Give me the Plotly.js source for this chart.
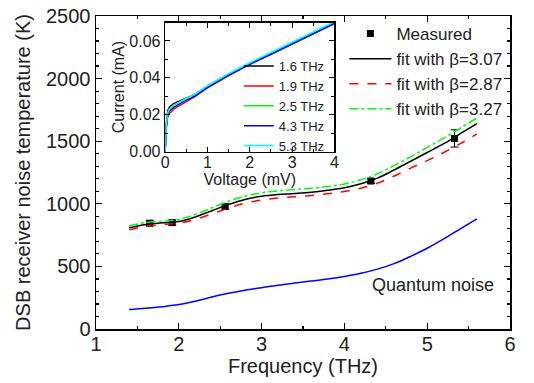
<!DOCTYPE html>
<html><head><meta charset="utf-8">
<script src="https://cdn.plot.ly/plotly-3.0.1.min.js"></script>
<style>html,body{margin:0;padding:0;background:#fff}#plot{width:534px;height:383px}</style>
</head><body><div id="plot"></div>
<script>
// Main chart data
const measFreq = [1.65, 1.92, 2.56, 4.32, 5.33];
const measTemp = [845, 850, 978, 1182, 1522];
const measErr  = [22, 20, 22, 18, 69];

const fitFreq = [1.4,1.6,1.8,2.0,2.2,2.4,2.6,2.8,3.0,3.2,3.4,3.6,3.8,4.0,4.2,4.4,4.6,4.8,5.0,5.2,5.4,5.6];
const fit307 = [808,835,848,858,895,945,995,1035,1060,1074,1082,1092,1108,1128,1160,1205,1270,1340,1410,1480,1560,1640];
const fit287 = [792,820,835,845,875,920,965,1005,1030,1046,1056,1066,1080,1098,1125,1165,1222,1285,1345,1410,1480,1558];
const fit327 = [824,850,862,875,915,968,1020,1062,1088,1104,1114,1124,1138,1158,1192,1240,1305,1375,1450,1525,1605,1685];
const quantum = [155,165,178,195,222,255,285,310,330,350,367,383,400,420,445,478,522,580,645,720,800,880];

// Inset I-V data
const vIV = [0,0.01,0.03,0.06,0.1,0.2,0.35,0.5,0.7,1.0,1.5,2.0,2.5,3.0,3.5,4.0];
const i16 = [0,0.008,0.016,0.022,0.024,0.026,0.0275,0.029,0.031,0.0355,0.042,0.0478,0.053,0.0587,0.064,0.0698];
const i19 = [0,0.006,0.013,0.019,0.0205,0.023,0.025,0.0272,0.0298,0.0345,0.0412,0.0473,0.0528,0.0584,0.064,0.0698];
const i25 = [0,0.007,0.015,0.021,0.023,0.025,0.027,0.0288,0.031,0.0354,0.042,0.048,0.0534,0.059,0.0645,0.0702];
const i43 = [0,0.007,0.014,0.020,0.022,0.024,0.026,0.028,0.030,0.0348,0.0413,0.0474,0.0528,0.0584,0.0639,0.0695];
const i53 = [0,0.008,0.015,0.021,0.023,0.025,0.027,0.029,0.0312,0.0357,0.0423,0.0482,0.0538,0.0593,0.0648,0.0705];
const ivLabels = ['1.6 THz','1.9 THz','2.5 THz','4.3 THz','5.3 THz'];
const ivColors = ['#000000','#ff0000','#00ff00','#0000ff','#00ffff'];
const ivSeries = [i16, i19, i25, i43, i53];

const FONT = 'Liberation Sans, Arial, sans-serif';

const traces = [
  {x: fitFreq, y: quantum, mode:'lines', line:{color:'#0000ff', width:1.5, shape:'spline'}, showlegend:false},
  {x: measFreq, y: measTemp, mode:'markers', name:'Measured',
   marker:{symbol:'square', size:7, color:'#000'},
   error_y:{type:'data', array: measErr, visible:true, color:'#000', thickness:1, width:4}},
  {x: fitFreq, y: fit307, mode:'lines', name:'fit with β=3.07', line:{color:'#000', width:1.5, shape:'spline'}},
  {x: fitFreq, y: fit287, mode:'lines', name:'fit with β=2.87', line:{color:'#ff0000', width:1.5, dash:'dash', shape:'spline'}},
  {x: fitFreq, y: fit327, mode:'lines', name:'fit with β=3.27', line:{color:'#00ff00', width:1.5, dash:'dashdot', shape:'spline'}}
];
ivSeries.forEach((s, k) => {
  traces.push({x: vIV, y: s, xaxis:'x2', yaxis:'y2', mode:'lines', name: ivLabels[k],
    legend:'legend2', line:{color: ivColors[k], width: 1.5}});
});

const layout = {
  width:534, height:383,
  margin:{l:96, r:24, t:16, b:54},
  paper_bgcolor:'#fff', plot_bgcolor:'rgba(0,0,0,0)',
  font:{family:FONT, color:'#222', size:20},
  xaxis:{range:[1,6], dtick:1, tick0:1, ticks:'inside', ticklen:6, tickwidth:1.2, tickcolor:'#000',
    minor:{dtick:0.5, ticks:'inside', ticklen:3, tickcolor:'#000'},
    showline:true, linecolor:'#000', linewidth:1.5, mirror:'ticks', showgrid:false, zeroline:false,
    ticklabelstandoff:-4,
    tickfont:{size:20}, title:{text:'Frequency (THz)', font:{size:20}, standoff:2}},
  yaxis:{range:[0,2500], dtick:500, ticks:'inside', ticklen:6, tickwidth:1.2, tickcolor:'#000',
    minor:{dtick:100, ticks:'inside', ticklen:3, tickcolor:'#000'},
    showline:true, linecolor:'#000', linewidth:1.5, mirror:'ticks', showgrid:false, zeroline:false,
    tickfont:{size:20}, title:{text:'DSB receiver noise temperature (K)', font:{size:20}, standoff:10}},
  xaxis2:{domain:[0.167,0.576], anchor:'y2', range:[0,4], dtick:1, ticks:'inside', ticklen:5, tickcolor:'#000',
    minor:{dtick:0.5, ticks:'inside', ticklen:3, tickcolor:'#000'},
    showline:true, linecolor:'#000', linewidth:1.5, mirror:'ticks', showgrid:false, zeroline:false,
    ticklabelstandoff:-4,
    tickfont:{size:16}, title:{text:'Voltage (mV)', font:{size:16}, standoff:0}},
  yaxis2:{domain:[0.567,0.979], anchor:'x2', range:[0,0.07], dtick:0.02, tickformat:'.2f', ticks:'inside', ticklen:5, tickcolor:'#000',
    minor:{dtick:0.01, ticks:'inside', ticklen:3, tickcolor:'#000'},
    showline:true, linecolor:'#000', linewidth:1.5, mirror:'ticks', showgrid:false, zeroline:false,
    tickfont:{size:16}, title:{text:'Current (mA)', font:{size:16}, standoff:0}},
  legend:{x:0.6, y:1.0, xanchor:'left', yanchor:'top', bgcolor:'rgba(0,0,0,0)', borderwidth:0,
    font:{size:17}, itemwidth:42, traceorder:'normal'},
  legend2:{x:0.345, y:0.888, xanchor:'left', yanchor:'top', bgcolor:'rgba(0,0,0,0)', borderwidth:0,
    font:{size:13}, itemwidth:30, traceorder:'normal'},
  annotations:[{x:5.07, y:354, xref:'x', yref:'y', text:'Quantum noise', showarrow:false, font:{size:18}}],
  showlegend:true
};
Plotly.newPlot('plot', traces, layout, {staticPlot:true, displayModeBar:false});
</script></body></html>
